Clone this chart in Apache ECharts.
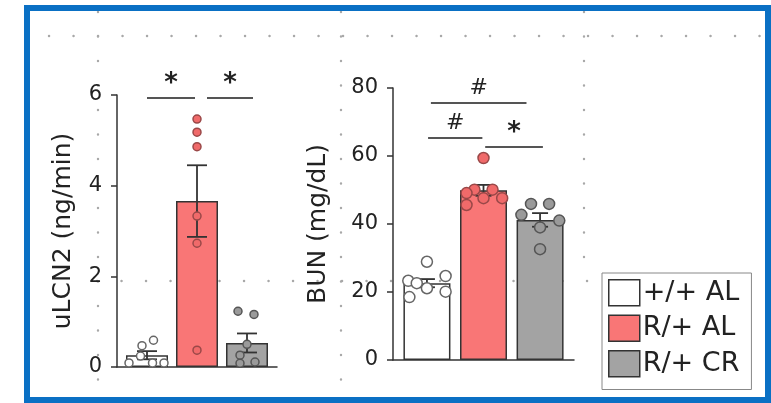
<!DOCTYPE html>
<html lang="en">
<head>
<meta charset="UTF-8">
<title>uLCN2 / BUN</title>
<style>
  html, body { margin: 0; padding: 0; background: #fff; }
  #chart { width: 771px; height: 403px; }
</style>
</head>
<body>
<div id="chart"></div>
<script src="https://cdn.jsdelivr.net/npm/echarts@6/dist/echarts.min.js"></script>
<script type="text/javascript">
// groups, in bar order
var groups = ['+/+ AL', 'R/+ AL', 'R/+ CR'];

// uLCN2 (ng/min)
var lcnMean = [0.26, 3.66, 0.53];
var lcnSem = [0.09, 0.79, 0.21];
var lcnPoints = [
    [0.47, 0.59, 0.24, 0.09, 0.09, 0.09],
    [5.47, 5.18, 4.86, 3.33, 2.73, 0.37],
    [1.23, 1.16, 0.50, 0.26, 0.08, 0.11]
];
var lcnTicks = [0, 2, 4, 6];
var lcnSigFrom = [0, 1.2];
var lcnSigTo = [0.96, 2.12];
var lcnSigLevel = [5.95, 5.95];
var lcnSigMark = ['*', '*'];

// BUN (mg/dL)
var bunMean = [22.6, 49.9, 41.2];
var bunSem = [1.2, 1.6, 2.0];
var bunPoints = [
    [28.9, 23.3, 22.6, 24.7, 18.5, 21.1, 20.1],
    [59.4, 50.1, 50.1, 47.6, 47.6, 45.6, 49.1],
    [45.9, 45.9, 42.7, 41.0, 39.0, 32.6]
];
var bunTicks = [0, 20, 40, 60, 80];
var bunSigFrom = [0.07, 0.02, 1.03];
var bunSigTo = [1.76, 0.98, 2.05];
var bunSigLevel = [75.6, 65.3, 62.8];
var bunSigMark = ['#', '#', '*'];

// horizontal scatter of the dots inside each bar (layout only)
var lcnJitter = [
    [-0.1, 0.13, -0.13, -0.36, 0.11, 0.34],
    [0, 0, 0, 0, 0, 0],
    [-0.18, 0.14, 0, -0.14, -0.14, 0.16]
];
var bunJitter = [
    [0, -0.33, -0.18, 0.33, -0.31, 0, 0.33],
    [0, -0.16, 0.16, 0, 0.33, -0.3, -0.3],
    [-0.16, 0.16, -0.33, 0.34, 0, 0]
];

var barFill = ['#ffffff', '#f97676', '#a3a3a3'];
var dotFill = ['#ffffff', '#f06a6a', '#9a9a9a'];
var dotLine = ['#666666', '#9a4848', '#555555'];
var ink = '#222';
var font = 'DejaVu Sans';

function axisPair(gridIndex, max, ticks, name, nameGap) {
    return {
        x: {
            type: 'value', gridIndex: gridIndex, min: -0.6, max: 2.6,
            axisLine: { show: true, onZero: false, lineStyle: { color: '#333', width: 1.5 } },
            axisTick: { show: false }, axisLabel: { show: false }, splitLine: { show: false }
        },
        y: {
            type: 'value', gridIndex: gridIndex, min: 0, max: max, interval: ticks[1] - ticks[0],
            name: name, nameLocation: 'middle', nameGap: nameGap,
            nameTextStyle: { fontFamily: font, fontSize: 25, color: ink },
            axisLine: { show: true, onZero: false, lineStyle: { color: '#333', width: 1.5 } },
            axisTick: { show: true, length: 6, lineStyle: { color: '#333', width: 1.5 } },
            axisLabel: { fontFamily: font, fontSize: 21, color: ink, margin: 15 },
            splitLine: { show: false }
        }
    };
}

var ax0 = axisPair(0, 6, lcnTicks, 'uLCN2 (ng/min)', 41);
var ax1 = axisPair(1, 80, bunTicks, 'BUN (mg/dL)', 62);

function sigLines(from, to, level, mark) {
    return from.map(function (f, i) {
        var star = mark[i] === '*';
        return [
            {
                coord: [f, level[i]],
                label: {
                    formatter: mark[i], fontSize: star ? 26 : 22,
                    fontWeight: star ? 'bold' : 'normal', distance: star ? 0 : 4
                }
            },
            { coord: [to[i], level[i]] }
        ];
    });
}

var series = [];

function addChart(idx, means, sems, points, jitter, barW, dotSize, capW, sig) {
    groups.forEach(function (g, k) {
        var s = {
            type: 'bar', name: g, xAxisIndex: idx, yAxisIndex: idx,
            barWidth: barW, barGap: '-100%',
            itemStyle: { color: barFill[k], borderColor: '#333', borderWidth: 1.5 },
            data: [[k, means[k]]],
            z: 2
        };
        if (k === 0) {
            s.markLine = {
                silent: true, symbol: ['none', 'none'],
                lineStyle: { color: '#555', width: 1.8, type: 'solid' },
                label: {
                    show: true, position: 'insideMiddleTop',
                    fontFamily: 'DejaVu Sans', color: ink
                },
                data: sig
            };
        }
        series.push(s);
    });
    // error bars
    series.push({
        type: 'custom', xAxisIndex: idx, yAxisIndex: idx, z: 4, silent: true,
        data: means.map(function (m, k) { return [k, m - sems[k], m + sems[k]]; }),
        renderItem: function (params, api) {
            var lo = api.coord([api.value(0), api.value(1)]);
            var hi = api.coord([api.value(0), api.value(2)]);
            var st = { stroke: '#333', lineWidth: 1.8 };
            return {
                type: 'group', children: [
                    { type: 'line', shape: { x1: lo[0], y1: lo[1], x2: hi[0], y2: hi[1] }, style: st },
                    { type: 'line', shape: { x1: hi[0] - capW / 2, y1: hi[1], x2: hi[0] + capW / 2, y2: hi[1] }, style: st },
                    { type: 'line', shape: { x1: lo[0] - capW / 2, y1: lo[1], x2: lo[0] + capW / 2, y2: lo[1] }, style: st }
                ]
            };
        }
    });
    // individual animals
    points.forEach(function (vals, k) {
        series.push({
            type: 'scatter', xAxisIndex: idx, yAxisIndex: idx, z: 5, silent: true, clip: false,
            symbolSize: dotSize,
            itemStyle: { color: dotFill[k], borderColor: dotLine[k], borderWidth: 1.5, opacity: 1 },
            data: vals.map(function (v, j) { return [k + jitter[k][j], v]; })
        });
    });
}

addChart(0, lcnMean, lcnSem, lcnPoints, lcnJitter, 42, 8, 20,
    sigLines(lcnSigFrom, lcnSigTo, lcnSigLevel, lcnSigMark));
addChart(1, bunMean, bunSem, bunPoints, bunJitter, 47, 11, 16,
    sigLines(bunSigFrom, bunSigTo, bunSigLevel, bunSigMark));

// faint dotted guide grid of the slide
var guides = [];
[[98, 12, 98, 380], [341, 12, 341, 385], [584, 12, 584, 270],
 [49, 36, 765, 36], [97, 281, 600, 281]].forEach(function (l) {
    guides.push({
        type: 'line', silent: true, z: -1,
        shape: { x1: l[0], y1: l[1], x2: l[2], y2: l[3] },
        style: { stroke: '#a8a8a8', lineWidth: 2.4, lineCap: 'round', lineDash: [0.1, 24.4] }
    });
});
guides.push({
    type: 'rect', silent: true, z: 100,
    shape: { x: 27, y: 8, width: 741, height: 392 },
    style: { fill: 'none', stroke: '#0a70c4', lineWidth: 6 }
});

var myChart = echarts.init(document.getElementById('chart'), null, { renderer: 'canvas' });
myChart.setOption({
    animation: false,
    backgroundColor: '#fff',
    grid: [
        { left: 117, top: 95, width: 160, height: 272 },
        { left: 393, top: 88, width: 181, height: 272 }
    ],
    xAxis: [ax0.x, ax1.x],
    yAxis: [ax0.y, ax1.y],
    legend: {
        orient: 'vertical', left: 602, top: 273,
        selectedMode: false,
        icon: 'rect', itemWidth: 31, itemHeight: 26, itemGap: 8,
        padding: [6, 12, 12, 6],
        backgroundColor: '#fff', borderColor: '#888', borderWidth: 1, borderRadius: 0,
        textStyle: { fontFamily: font, fontSize: 27, color: ink, padding: [0, 0, 0, -2] },
        data: groups.map(function (g, k) {
            return { name: g, itemStyle: { color: barFill[k], borderColor: '#333', borderWidth: 1.5 } };
        })
    },
    graphic: guides,
    series: series
});
</script>
</body>
</html>
